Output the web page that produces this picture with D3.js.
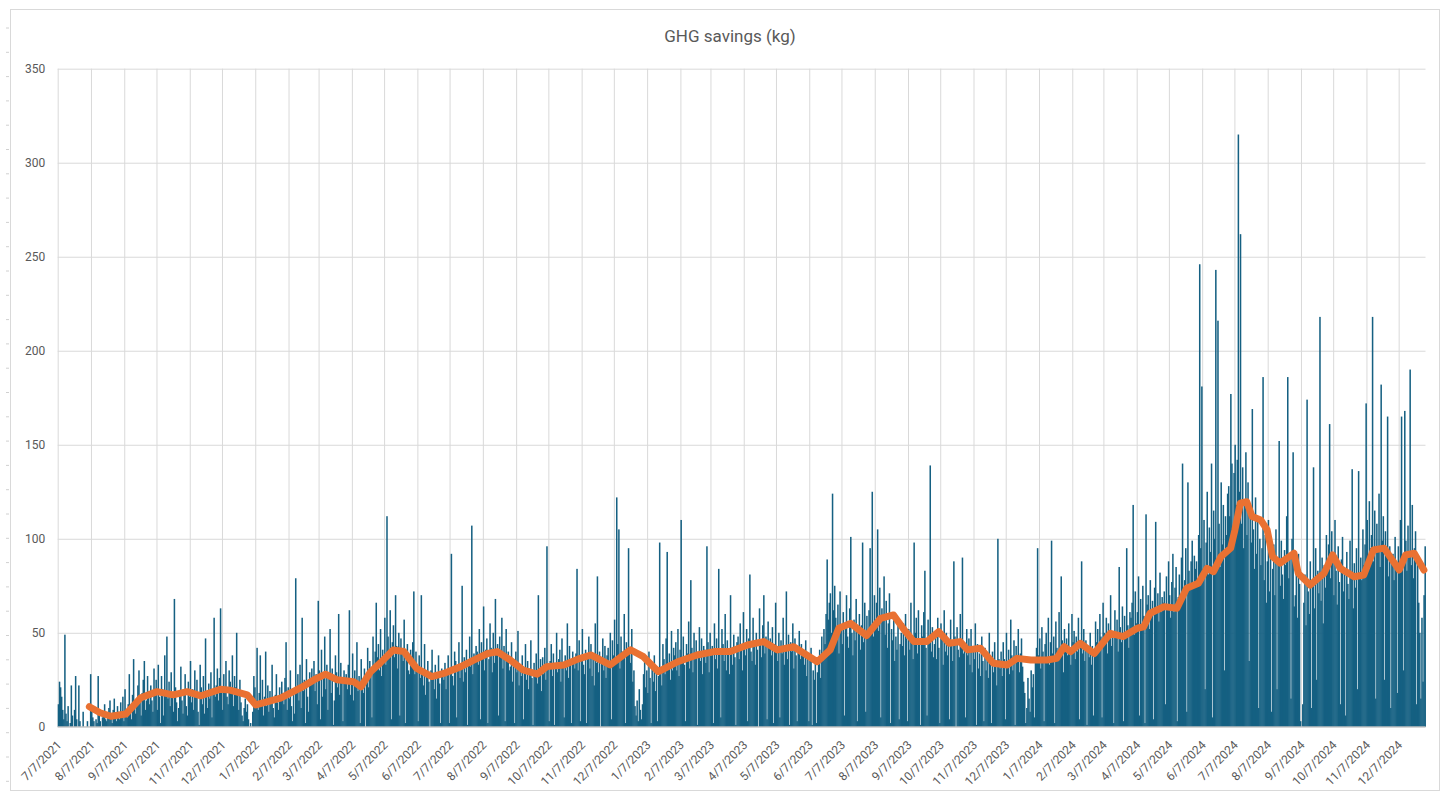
<!DOCTYPE html>
<html>
<head>
<meta charset="utf-8">
<script src="https://cdn.jsdelivr.net/npm/d3@7"></script>
<style>
  body { margin: 0; background: #fff; }
  text { font-family: Roboto, "Noto Sans", sans-serif; fill: #595959; }
</style>
</head>
<body>
<svg width="1448" height="794"></svg>
<script>
// daily GHG savings, first day 7/7/2021, one value per day
const startDate = "2021-07-07";

const ghg2021 = [
  12,24,21,16,9,4,49,7,3,11, 0,2,22,6,0,9,27,4,0,22, 3,0,0,8,0,
  0,0,3,0,0,28,9,5,3,0, 4,2,27,6,3,0,5,8,12,4, 3,7,10,14,6,2,9,15,5,3, 11,
  8,4,13,6,16,3,20,9,5,12, 28,10,4,17,36,11,7,15,22,30, 13,6,18,25,35,9,14,27,19,12,
  22,14,8,31,18,25,9,33,16,2, 27,20,6,38,19,48,15,24,11,29, 17,8,68,21,13,3,10,18,32,14, 7,
  19,28,11,6,24,16,35,13,20,9, 30,17,25,8,1,33,21,12,27,7, 47,18,10,23,15,29,5,19,58,16,
  22,31,14,26,63,18,9,28,20,35, 16,12,30,24,19,38,11,27,21,50, 17,9,25,13,6,3,10,15,8,12, 4
];

const ghg2022 = [
  0,2,0,8,27,21,14,42,9,18, 38,12,25,6,16,40,11,22,8,19, 14,33,10,5,17,28,13,9,21,15, 24,
  18,12,26,45,9,21,15,30,11,3, 17,7,79,20,28,14,33,10,58,19, 25,2,36,16,8,29,22,31,
  24,35,19,28,12,67,30,4,41,16, 26,48,20,33,9,27,52,18,31,1, 14,38,29,21,60,17,34,26,3,30, 23,
  28,20,33,62,17,25,39,14,30,22, 45,19,27,2,36,24,18,31,0,26, 42,21,35,29,5,48,33,40,66,37,
  44,30,52,27,41,36,58,33,112,48, 39,62,4,45,54,37,70,43,31,50, 6,47,40,35,57,2,38,44,30,28, 41,
  36,45,72,28,40,33,3,38,26,70, 31,22,44,17,29,35,24,0,30,41, 27,20,33,15,26,38,23,2,31,28,
  25,34,20,29,38,2,31,92,27,22, 40,35,5,30,45,26,33,75,24,37, 29,41,1,36,48,32,107,28,39,34, 43,
  40,33,52,4,45,38,64,30,41,47, 2,36,55,42,29,50,34,68,39,44, 6,48,37,58,31,43,3,52,35,40, 30,
  32,45,24,36,2,40,29,51,22,33, 27,38,4,30,44,25,35,20,31,46, 26,1,34,28,39,23,70,29,36,19,
  37,28,42,25,96,31,3,35,44,27, 39,1,33,50,29,36,41,24,47,32, 5,38,30,55,26,43,34,2,40,35, 31,
  39,84,30,46,3,37,52,33,28,41, 2,36,48,31,44,27,38,22,55,34, 80,29,40,0,35,47,30,43,26,38,
  42,35,50,4,46,38,57,33,122,44, 105,31,48,40,36,60,2,45,39,95, 41,34,52,24,30,11,6,14,3,20, 9
];

const ghg2023 = [
  4,12,28,35,21,30,18,40,26,2, 33,24,38,19,29,3,27,98,31,22, 44,36,28,47,93,33,39,25,51,30, 42,
  38,45,30,52,27,41,110,36,48,33, 3,44,39,56,31,78,42,29,50,37, 46,1,40,53,35,47,28,43,
  41,34,96,45,29,50,38,43,2,55, 36,47,31,84,40,5,52,44,35,60, 30,46,39,28,70,42,33,49,37,1, 45,
  48,36,55,42,30,61,44,38,52,3, 47,81,40,35,58,45,33,50,41,0, 63,46,37,54,70,39,48,4,56,43,
  47,38,53,2,44,66,41,35,50,5, 46,39,58,33,42,72,36,49,1,45, 40,55,31,47,38,3,43,51,36,44, 39,
  40,33,46,27,38,3,35,42,1,30, 25,37,2,29,33,41,26,48,35,52, 44,60,89,57,66,71,50,124,62,75,
  58,47,65,39,72,53,44,61,6,55, 70,48,42,63,101,50,38,57,46,68, 3,52,60,41,54,98,45,66,8,59, 49,
  62,95,54,125,48,70,57,66,105,51, 74,5,63,58,80,49,67,42,55,71, 2,52,46,60,35,48,41,57,4,44, 50,
  43,55,38,60,47,3,52,41,66,45, 36,98,50,58,39,62,44,1,54,48, 61,83,42,6,57,46,139,40,53,37,
  44,51,36,58,42,2,55,47,33,62, 40,50,38,45,4,57,43,35,88,48, 0,53,41,37,60,46,90,39,44,5, 52,
  38,47,33,52,29,41,36,55,1,44, 31,39,27,48,35,3,42,30,37,26, 50,33,2,40,29,45,34,22,100,36,
  31,40,27,45,36,4,50,33,41,28, 57,38,30,46,1,43,35,52,29,39, 47,32,24,18,2,10,26,15,8,30, 21
];

const ghg2024 = [
  28,5,35,42,95,38,47,31,53,40, 3,44,50,36,58,33,45,99,39,48, 2,56,42,35,61,37,80,46,29,52, 41,
  47,38,55,42,33,60,45,51,36,48, 40,58,4,44,88,39,52,35,46,1, 41,37,50,33,43,6,39,56,45,
  52,41,60,48,5,66,50,44,58,39, 55,47,70,43,51,2,62,49,57,40, 85,53,45,64,3,59,48,95,54,42, 61,
  58,66,118,49,72,55,61,80,6,68, 53,75,59,2,113,65,70,52,78,60, 67,4,74,109,63,71,56,82,61,69,
  66,72,12,80,63,88,70,58,77,92, 61,74,85,3,69,81,64,90,140,71, 78,95,8,130,83,73,88,99,76,91, 84,
  88,76,102,246,95,181,84,110,20,98, 125,81,106,93,140,5,115,100,243,89, 216,108,85,130,97,118,30,112,102,124,
  128,112,177,140,96,135,150,118,142,315, 125,262,108,138,95,120,146,102,130,35, 115,98,169,105,84,122,92,110,10,100, 86,
  95,186,78,102,66,88,110,72,93,8, 84,97,70,105,20,90,152,75,99,81, 68,94,86,112,186,79,91,15,100,146, 64,
  70,85,58,92,76,3,0,12,66,81, 54,174,72,60,88,10,77,138,63,95, 25,83,71,218,67,90,55,86,74,102,
  88,97,161,79,104,92,70,110,83,65, 96,77,12,89,101,72,84,6,93,76, 68,99,80,137,63,87,74,95,20,136, 82,
  90,78,105,86,97,172,110,83,120,95, 102,218,88,115,15,108,93,124,85,182, 99,112,25,104,91,165,80,96,10,87,
  92,78,101,85,18,96,82,110,165,88, 30,168,99,83,107,91,190,86,118,79, 95,104,12,89,66,50,15,58,24,70, 96
];

// moving-average trend line (days after 7/7/2021)
const trendDay = [
  29,39,49,63,77,92,107,120,133,151,
  160,176,184,201,207,226,238,249,260,275,
  282,291,300,312,322,334,348,359,375,387,
  400,409,421,433,446,455,471,484,496,514,
  533,545,559,577,595,611,626,642,657,670,
  685,707,719,727,738,753,766,778,788,797,
  809,820,830,840,847,859,871,884,893,906,
  921,930,937,943,952,965,980,992,1005,1011,
  1017,1030,1042,1051,1062,1070,1076,1083,1092,1096,
  1101,1107,1112,1120,1126,1131,1138,1151,1155,1166,
  1179,1187,1194,1207,1216,1225,1235,1249,1255,1263,
  1272
];
const trendValue = [
  10.7,7.5,5.6,6.8,15.5,18.7,17,18.7,16.5,20,
  19.5,17,11.6,14.3,15.3,20.8,24.9,28,25,24,
  21.3,29.3,34,40.8,40,31,26.7,28.4,32,35.5,
  39,40,35.5,30.2,28,32,32.9,36,38.2,32.9,
  41,37.3,29.3,34.6,38.2,40,40,43.5,45.3,40.9,
  42.6,34.6,40.9,52.4,55,48.5,57.7,59.5,51.5,45.3,
  45.3,50.6,44.4,45.3,40.9,41.8,33.8,32.9,36.4,35.5,
  35.5,36.4,42.6,40,44.4,39,49.7,48,52.4,53.2,
  60.4,63.9,63,73.7,76.3,84.3,82.5,90.5,95,104.7,
  118.9,119.7,111.8,110,104.7,90.5,87,92.3,81.6,75.4,
  81.6,91.4,84.3,79.8,80.7,94,95,83.4,91.4,92.3,
  83.4
];

const monthTicks = [
  "7/7/2021","8/7/2021","9/7/2021","10/7/2021","11/7/2021","12/7/2021",
  "1/7/2022","2/7/2022","3/7/2022","4/7/2022","5/7/2022","6/7/2022",
  "7/7/2022","8/7/2022","9/7/2022","10/7/2022","11/7/2022","12/7/2022",
  "1/7/2023","2/7/2023","3/7/2023","4/7/2023","5/7/2023","6/7/2023",
  "7/7/2023","8/7/2023","9/7/2023","10/7/2023","11/7/2023","12/7/2023",
  "1/7/2024","2/7/2024","3/7/2024","4/7/2024","5/7/2024","6/7/2024",
  "7/7/2024","8/7/2024","9/7/2024","10/7/2024","11/7/2024","12/7/2024"
];
const yTicks = [0, 50, 100, 150, 200, 250, 300, 350];

const svg = d3.select("svg");
const values = [].concat(ghg2021, ghg2022, ghg2023, ghg2024);
const start = d3.utcParse("%Y-%m-%d")(startDate);
const dayDate = i => d3.utcDay.offset(start, i);
const parseTick = d3.utcParse("%m/%d/%Y");

const plotLeft = 57.7, plotRight = 1425.5, plotTop = 68.7, plotBottom = 726.8;

const x = d3.scaleUtc()
    .domain([start, dayDate(values.length)])
    .range([plotLeft, plotRight]);
const y = d3.scaleLinear()
    .domain([0, 350])
    .range([plotBottom, plotTop]);

// chart frame + little row marks on the left edge
svg.append("rect")
    .attr("x", 10.5).attr("y", 9.5)
    .attr("width", 1429).attr("height", 781)
    .attr("fill", "#fff").attr("stroke", "#d9d9d9");
svg.append("g").selectAll("line")
    .data(d3.range(28, 790, 24.3))
    .join("line")
    .attr("x1", 6).attr("x2", 9)
    .attr("y1", d => d).attr("y2", d => d)
    .attr("stroke", "#d0d0d0");

svg.append("text")
    .attr("x", 730).attr("y", 42)
    .attr("text-anchor", "middle")
    .style("font-size", "17px")
    .text("GHG savings (kg)");

// y axis / horizontal grid
const yAxis = svg.append("g")
    .attr("transform", `translate(${plotLeft},0)`)
    .call(d3.axisLeft(y).tickValues(yTicks).tickSize(-(plotRight - plotLeft)).tickPadding(12.5));
yAxis.select(".domain").remove();
yAxis.selectAll(".tick line").attr("stroke", "#d9d9d9");
yAxis.selectAll(".tick text").style("font-size", "12px").attr("fill", "#595959");

// x axis / vertical grid
const tickDates = monthTicks.map(parseTick);
const xAxis = svg.append("g")
    .attr("transform", `translate(0,${plotBottom})`)
    .call(d3.axisBottom(x)
        .tickValues(tickDates)
        .tickSize(-(plotBottom - plotTop))
        .tickFormat((d, i) => monthTicks[i]));
xAxis.select(".domain").remove();
xAxis.selectAll(".tick line").attr("stroke", "#d9d9d9");
xAxis.selectAll(".tick text")
    .attr("x", 0).attr("y", 0).attr("dy", "0.35em")
    .attr("transform", "translate(1,16) rotate(-45)")
    .style("text-anchor", "end")
    .style("font-size", "12px")
    .attr("fill", "#595959");

// daily bars (slight overlap so neighbouring bars read as one solid mass)
const dayW = x(dayDate(1)) - x(dayDate(0));
svg.append("g")
  .selectAll("rect")
  .data(values)
  .join("rect")
    .attr("x", (d, i) => x(dayDate(i)))
    .attr("width", dayW + 0.45)
    .attr("y", d => y(d))
    .attr("height", d => y(0) - y(d))
    .attr("fill", "#156082");

svg.append("line")
    .attr("x1", plotLeft).attr("x2", plotRight)
    .attr("y1", plotBottom).attr("y2", plotBottom)
    .attr("stroke", "#bfbfbf");

// trend
const line = d3.line()
    .x(d => x(dayDate(d[0])) + dayW / 2)
    .y(d => y(d[1]));
svg.append("path")
    .datum(d3.zip(trendDay, trendValue))
    .attr("d", line)
    .attr("fill", "none")
    .attr("stroke", "#e97132")
    .attr("stroke-width", 7)
    .attr("stroke-linejoin", "round")
    .attr("stroke-linecap", "round");
</script>
</body>
</html>
